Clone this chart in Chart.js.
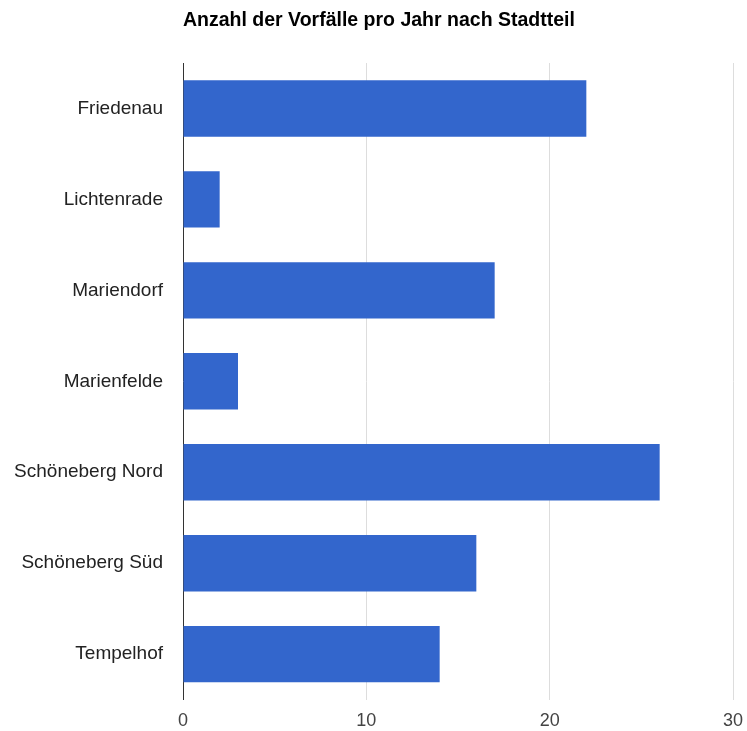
<!DOCTYPE html>
<html>
<head>
<meta charset="utf-8">
<script src="https://cdn.jsdelivr.net/npm/chart.js@4"></script>
<style>
html,body{margin:0;padding:0;background:#fff;}
#wrap{width:747px;height:731px;position:relative;}
</style>
</head>
<body>
<div id="wrap"><canvas id="c" width="747" height="731"></canvas></div>
<script>
const categories = ["Friedenau","Lichtenrade","Mariendorf","Marienfelde","Schöneberg Nord","Schöneberg Süd","Tempelhof"];
const values = [22, 2, 17, 3, 26, 16, 14];
const xTicks = [0, 10, 20, 30];
const titleText = "Anzahl der Vorfälle pro Jahr nach Stadtteil";

const titlePlugin = {
  id: 'leftTitle',
  afterDraw(chart) {
    const ctx = chart.ctx;
    ctx.save();
    ctx.font = 'bold 19.5px "Liberation Sans", Arial, sans-serif';
    ctx.fillStyle = '#000';
    ctx.textBaseline = 'middle';
    ctx.textAlign = 'left';
    ctx.fillText(titleText, chart.chartArea.left, 21);
    ctx.restore();
  }
};

new Chart(document.getElementById('c'), {
  type: 'bar',
  data: {
    labels: categories,
    datasets: [{
      data: values,
      backgroundColor: '#3366CC',
      borderWidth: 0,
      categoryPercentage: 1,
      barPercentage: 0.62
    }]
  },
  options: {
    indexAxis: 'y',
    responsive: false,
    animation: false,
    layout: { padding: { top: 63, right: 14, left: 0, bottom: 0 } },
    plugins: { legend: { display: false }, tooltip: { enabled: false }, title: { display: false } },
    scales: {
      x: {
        min: 0, max: 30,
        afterBuildTicks(scale) { scale.ticks = xTicks.map(v => ({ value: v })); },
        afterFit(scale) { scale.height = 31; scale.paddingRight = 0; },
        grid: { color: '#dddddd', drawTicks: false, lineWidth: 1 },
        border: { display: false },
        ticks: { padding: 11, color: '#444', font: { family: '"Liberation Sans", Arial, sans-serif', size: 18 } }
      },
      y: {
        afterFit(scale) { scale.width = 183; },
        grid: { display: false, drawTicks: false },
        border: { display: true, color: '#333', width: 1 },
        ticks: { padding: 20, color: '#222', font: { family: '"Liberation Sans", Arial, sans-serif', size: 19 } }
      }
    }
  },
  plugins: [titlePlugin]
});
</script>
</body>
</html>
